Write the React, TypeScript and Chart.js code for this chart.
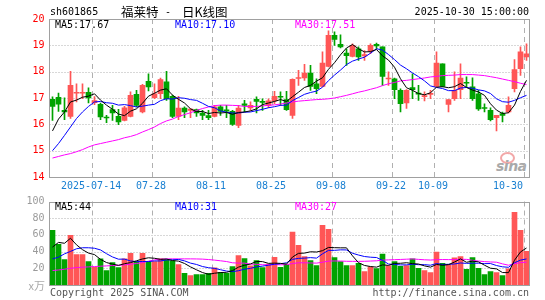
import React, { useEffect, useRef } from "react";
import { Chart, registerables } from "chart.js";
Chart.register(...registerables);

const dates = [
  "2025-07-03","2025-07-04","2025-07-07","2025-07-08","2025-07-09","2025-07-10","2025-07-11","2025-07-14","2025-07-15","2025-07-16",
  "2025-07-17","2025-07-18","2025-07-21","2025-07-22","2025-07-23","2025-07-24","2025-07-25","2025-07-28","2025-07-29","2025-07-30",
  "2025-07-31","2025-08-01","2025-08-04","2025-08-05","2025-08-06","2025-08-07","2025-08-08","2025-08-11","2025-08-12","2025-08-13",
  "2025-08-14","2025-08-15","2025-08-18","2025-08-19","2025-08-20","2025-08-21","2025-08-22","2025-08-25","2025-08-26","2025-08-27",
  "2025-08-28","2025-08-29","2025-09-01","2025-09-02","2025-09-03","2025-09-04","2025-09-05","2025-09-08","2025-09-09","2025-09-10",
  "2025-09-11","2025-09-12","2025-09-15","2025-09-16","2025-09-17","2025-09-18","2025-09-19","2025-09-22","2025-09-23","2025-09-24",
  "2025-09-25","2025-09-26","2025-09-29","2025-09-30","2025-10-09","2025-10-10","2025-10-13","2025-10-14","2025-10-15","2025-10-16",
  "2025-10-17","2025-10-20","2025-10-21","2025-10-22","2025-10-23","2025-10-24","2025-10-27","2025-10-28","2025-10-29","2025-10-30",
];
const axisDates = ["2025-07-14","2025-07-28","2025-08-11","2025-08-25","2025-09-08","2025-09-22","2025-10-09","2025-10-30"];
const axisLabels = ["2025-07-14","07-28","08-11","08-25","09-08","09-22","10-09","10-30"];
const priceGrid = [15, 16, 17, 18, 19];
const volumeGrid = [20, 40, 60, 80];

const opens = [
  16.95,17.03,16.53,16.30,17.18,17.18,17.22,16.82,16.76,16.26,
  16.56,16.30,16.15,16.30,17.14,16.47,17.63,17.01,17.16,17.61,
  17.06,16.30,16.62,16.53,16.56,16.43,16.33,16.30,16.66,16.55,
  16.49,15.96,16.78,16.62,16.95,16.87,16.72,16.89,17.06,16.94,
  16.34,17.74,17.76,17.95,17.54,17.44,18.20,19.38,19.04,18.71,
  18.58,18.87,18.60,18.78,19.04,18.94,17.72,17.73,17.29,16.81,
  17.40,17.18,17.05,17.14,17.44,18.30,16.76,16.97,17.32,17.59,
  17.42,17.16,16.62,16.53,16.25,16.41,16.47,17.35,18.11,18.56,
];
const closes = [
  16.68,16.77,16.47,17.48,17.20,17.21,17.00,16.90,16.28,16.24,
  16.43,16.09,16.63,17.10,16.72,17.48,17.42,17.16,17.70,16.97,
  16.30,16.62,16.47,16.58,16.43,16.34,16.25,16.66,16.49,16.50,
  16.00,16.62,16.72,16.72,16.87,16.83,16.89,17.06,17.03,16.56,
  17.71,17.76,17.95,17.44,17.35,18.33,19.38,19.22,18.94,18.61,
  19.00,18.56,18.65,19.00,18.98,17.82,17.74,17.32,16.78,17.29,
  17.32,17.15,17.07,17.17,18.33,17.44,16.94,17.29,17.76,17.56,
  16.97,16.59,16.60,16.18,16.34,16.34,16.72,18.08,18.75,18.68,
];
const highs = [
  17.04,17.19,17.01,18.01,17.54,17.54,17.39,17.05,16.81,16.34,
  16.72,16.57,16.68,17.23,17.29,17.52,17.92,17.54,17.76,18.01,
  17.10,17.06,16.66,16.60,16.58,16.53,16.53,16.72,16.72,16.72,
  16.53,16.72,16.91,16.85,17.04,16.97,16.97,17.25,17.23,17.25,
  17.73,18.05,18.28,18.24,17.73,18.75,19.55,19.51,19.40,18.87,
  19.06,18.94,18.80,19.06,19.09,18.94,17.99,17.76,17.35,17.32,
  17.92,17.48,17.23,17.29,18.75,18.30,16.94,17.99,18.30,17.80,
  17.77,17.29,16.78,16.63,16.34,16.47,17.04,18.46,18.94,19.06,
];
const lows = [
  16.15,16.49,16.18,16.22,16.85,16.97,16.81,16.75,16.18,16.06,
  16.15,15.99,16.13,16.28,16.66,16.43,17.27,16.97,16.97,16.91,
  16.25,16.18,16.25,16.25,16.30,16.18,16.18,16.28,16.34,16.25,
  15.96,15.87,16.47,16.53,16.43,16.53,16.63,16.78,16.72,16.53,
  16.22,17.48,17.67,17.29,17.16,17.42,18.18,19.00,18.90,18.24,
  18.56,18.43,18.43,18.68,18.87,17.48,17.48,16.97,16.47,16.60,
  16.97,16.91,16.89,16.97,17.42,17.42,16.47,16.91,16.97,17.42,
  16.91,16.53,16.47,16.13,15.75,16.09,16.43,17.23,17.86,18.43,
];
const ma5 = [
  15.75,16.20,16.47,16.85,16.92,17.03,17.07,17.16,16.92,16.73,
  16.57,16.39,16.33,16.50,16.59,16.80,17.07,17.18,17.30,17.35,
  17.11,16.95,16.81,16.59,16.48,16.49,16.41,16.45,16.43,16.45,
  16.38,16.45,16.47,16.51,16.59,16.75,16.81,16.87,16.94,16.87,
  17.05,17.22,17.40,17.48,17.64,17.77,18.09,18.34,18.64,18.90,
  19.03,18.87,18.75,18.76,18.84,18.60,18.44,18.17,17.73,17.39,
  17.29,17.17,17.12,17.20,17.41,17.43,17.39,17.43,17.55,17.40,
  17.30,17.23,17.10,16.78,16.54,16.41,16.44,16.73,17.25,17.67,
];
const ma10 = [
  15.00,15.27,15.58,15.90,16.22,16.47,16.68,16.85,16.87,16.82,
  16.80,16.73,16.75,16.71,16.66,16.69,16.73,16.76,16.90,16.97,
  16.96,17.01,16.99,16.94,16.91,16.80,16.68,16.63,16.51,16.46,
  16.43,16.43,16.46,16.47,16.52,16.57,16.63,16.67,16.72,16.73,
  16.90,17.02,17.14,17.21,17.26,17.41,17.66,17.87,18.06,18.27,
  18.40,18.48,18.55,18.70,18.87,18.82,18.65,18.46,18.25,18.11,
  17.95,17.81,17.65,17.46,17.40,17.36,17.28,17.28,17.38,17.40,
  17.37,17.31,17.27,17.17,16.97,16.86,16.84,16.91,17.01,17.10,
];
const ma30 = [
  14.72,14.78,14.84,14.89,14.96,15.04,15.14,15.22,15.27,15.32,
  15.37,15.42,15.49,15.54,15.61,15.71,15.80,15.90,16.03,16.13,
  16.20,16.30,16.37,16.44,16.53,16.60,16.66,16.71,16.73,16.73,
  16.72,16.71,16.68,16.68,16.68,16.70,16.72,16.74,16.77,16.81,
  16.85,16.88,16.90,16.92,16.94,16.95,16.97,17.00,17.05,17.10,
  17.16,17.22,17.27,17.33,17.39,17.47,17.54,17.59,17.65,17.67,
  17.70,17.73,17.76,17.80,17.82,17.85,17.86,17.87,17.89,17.89,
  17.89,17.87,17.85,17.81,17.77,17.72,17.67,17.62,17.56,17.51,
];
const volumes = [
  65.5,48.6,30.5,59.4,36.5,36.5,28.1,21.3,31.3,17.3,
  26.9,20.9,31.3,37.8,28.1,37.8,28.1,28.1,31.3,30.0,
  29.0,24.5,14.0,11.2,12.4,12.4,14.0,20.5,15.3,14.0,
  22.0,35.3,31.5,23.0,29.2,21.0,25.0,33.0,21.3,24.5,
  63.5,47.4,34.1,29.3,23.3,71.5,66.7,32.9,28.1,23.3,
  23.3,26.1,16.1,21.7,19.7,36.9,22.9,28.1,22.5,23.3,
  31.3,20.1,17.3,14.9,39.4,26.1,24.5,32.5,34.1,18.9,
  32.9,20.1,12.4,16.1,14.9,11.2,19.3,87.1,65.5,40.2,
];
const volMa5 = [
  45.4,51.0,50.0,56.0,48.1,42.3,38.2,36.4,30.7,26.9,
  25.0,23.5,25.5,26.8,29.0,31.2,32.6,32.0,30.7,31.1,
  29.3,28.6,25.8,21.7,18.2,14.9,12.8,14.1,14.9,15.2,
  17.2,21.4,23.6,25.2,28.2,28.0,25.9,26.2,25.9,25.0,
  33.5,37.9,38.2,39.8,39.5,41.1,45.0,44.7,44.5,44.5,
  34.9,26.7,23.4,22.1,21.4,24.1,23.5,25.9,26.0,26.7,
  25.6,25.1,22.9,21.4,24.6,23.6,24.4,27.5,31.3,27.2,
  28.6,27.7,23.7,20.1,19.3,14.9,14.8,29.7,39.6,44.3,
];
const volMa10 = [
  31.3,33.3,37.3,40.2,43.4,44.6,44.6,44.0,42.0,37.5,
  33.6,30.9,31.0,28.8,28.0,28.1,28.1,28.8,28.8,30.0,
  30.2,30.6,28.9,26.2,24.6,22.1,20.7,19.9,18.3,16.7,
  16.0,17.1,18.9,20.0,21.7,22.6,23.7,24.9,25.5,26.6,
  30.7,31.9,32.2,32.8,32.2,37.3,41.5,41.5,42.1,42.0,
  38.0,35.9,34.1,33.3,32.9,29.5,25.1,24.6,24.1,24.1,
  24.9,24.3,24.4,23.7,25.7,24.6,24.8,25.2,26.4,25.9,
  26.1,26.1,25.6,25.7,23.3,21.8,21.2,26.7,29.8,31.2,
];
const volMa30 = [
  17.3,18.0,18.9,20.0,20.9,21.3,21.7,22.1,22.5,22.9,
  23.3,23.7,24.1,24.9,25.7,26.9,28.5,30.1,30.9,31.3,
  31.3,31.3,31.3,31.3,31.2,31.0,30.5,29.8,29.0,28.1,
  26.6,26.2,26.2,25.0,24.8,24.3,24.2,24.5,24.2,24.4,
  25.7,26.6,26.6,26.4,26.2,27.3,28.6,28.8,28.7,28.4,
  28.3,28.3,28.4,28.7,29.0,29.8,30.1,30.3,30.6,30.9,
  31.2,30.7,30.2,29.9,30.3,30.5,30.4,30.4,30.8,30.7,
  29.6,28.7,28.0,27.6,27.3,25.3,23.7,25.5,26.8,27.3,
];

const RED = "#ff5656";
const GREEN = "#00a300";
const MONO = '"DejaVu Sans Mono", "Liberation Mono", monospace';
const CJK = '"Noto Sans CJK SC", sans-serif';
const W = 545;

function framePlugin(hLines: number[], withLabels: boolean) {
  return {
    id: "sinaFrame",
    beforeDatasetsDraw(chart: any) {
      const { ctx, chartArea: a, scales } = chart;
      const xs = scales.x;
      const ys = scales.y;
      ctx.save();
      ctx.lineWidth = 1;
      ctx.strokeStyle = "#b0b0b0";
      ctx.setLineDash([1, 2]);
      hLines.forEach((v) => {
        const py = Math.round(ys.getPixelForValue(v)) + 0.5;
        ctx.beginPath();
        ctx.moveTo(a.left, py);
        ctx.lineTo(a.right, py);
        ctx.stroke();
      });
      ctx.setLineDash([5, 4]);
      axisDates.forEach((d) => {
        const idx = dates.indexOf(d);
        const px = Math.floor(xs.getPixelForValue(idx) - 2) + 0.5;
        ctx.beginPath();
        ctx.moveTo(px, a.top);
        ctx.lineTo(px, a.bottom);
        ctx.stroke();
      });
      ctx.restore();
    },
    afterDatasetsDraw(chart: any) {
      const { ctx, chartArea: a, scales } = chart;
      ctx.save();
      ctx.lineWidth = 1;
      ctx.strokeStyle = "#a0a0a0";
      const l = Math.floor(a.left) + 0.5;
      const t = Math.round(a.top) + 0.5;
      const r = Math.floor(a.right) + 0.5;
      const b = Math.round(a.bottom) + 0.5;
      ctx.strokeRect(l, t, r - l, b - t);
      if (withLabels) {
        const xs = scales.x;
        ctx.font = `10px ${MONO}`;
        ctx.fillStyle = "#1a80d2";
        ctx.textBaseline = "middle";
        ctx.textAlign = "left";
        axisDates.forEach((d, k) => {
          const px = xs.getPixelForValue(dates.indexOf(d)) - 3;
          const text = axisLabels[k];
          const w = ctx.measureText(text).width;
          let left = px - w / 2;
          if (left + w > a.right - 6) left = a.right - 6 - w;
          ctx.fillText(text, Math.round(left), Math.round(a.bottom) + 9);
        });
      }
      ctx.restore();
    },
  };
}

const upColors = opens.map((o, i) => (closes[i] >= o ? RED : GREEN));

function lineDs(data: number[], color: string) {
  return {
    type: "line",
    data,
    borderColor: color,
    borderWidth: 1,
    pointRadius: 0,
    fill: false,
    tension: 0,
    order: 0,
  };
}

function yAxisFit(s: any) {
  s.width = 49.5;
  s.paddingTop = 0;
  s.paddingBottom = 0;
}

function Txt(props: any) {
  const { x, y, color = "#000", size = 10, align = "left", font = MONO, children, style } = props;
  const pos: any = align === "right" ? { right: W - x } : { left: x };
  return (
    <div
      style={{
        position: "absolute",
        ...pos,
        top: y - 8,
        height: 16,
        lineHeight: "16px",
        fontSize: size,
        fontFamily: font,
        color,
        whiteSpace: "pre",
        ...style,
      }}
    >
      {children}
    </div>
  );
}

export default function App() {
  const priceRef = useRef<HTMLCanvasElement>(null);
  const volRef = useRef<HTMLCanvasElement>(null);

  useEffect(() => {
    const price = new Chart(priceRef.current as any, {
      type: "bar",
      data: {
        labels: dates,
        datasets: [
          lineDs(ma5, "#000000"),
          lineDs(ma10, "#0000ff"),
          lineDs(ma30, "#ff00ff"),
          {
            type: "bar",
            data: opens.map((o, i) => [o, closes[i]]),
            backgroundColor: upColors,
            barThickness: 5,
            minBarLength: 1,
            grouped: false,
            order: 2,
          },
          {
            type: "bar",
            data: lows.map((l, i) => [l, highs[i]]),
            backgroundColor: upColors,
            barThickness: 1,
            grouped: false,
            order: 3,
          },
        ] as any,
      },
      options: {
        responsive: false,
        animation: false,
        events: [],
        layout: { padding: { left: 0, right: 15.5, top: 19, bottom: 0 } },
        plugins: { legend: { display: false }, tooltip: { enabled: false } },
        scales: {
          x: {
            type: "category",
            offset: true,
            grid: { display: false, drawTicks: false },
            border: { display: false },
            ticks: { display: false },
            afterFit: (s: any) => {
              s.height = 19;
              s.paddingLeft = 0;
              s.paddingRight = 0;
            },
          },
          y: {
            min: 14,
            max: 20,
            grid: { display: false, drawTicks: false },
            border: { display: false },
            ticks: {
              stepSize: 1,
              padding: 5,
              color: "#ff0000",
              font: { family: MONO, size: 10 },
            },
            afterFit: yAxisFit,
          },
        },
      } as any,
      plugins: [framePlugin(priceGrid, true)],
    });

    const vol = new Chart(volRef.current as any, {
      type: "bar",
      data: {
        labels: dates,
        datasets: [
          lineDs(volMa5, "#000000"),
          lineDs(volMa10, "#0000ff"),
          lineDs(volMa30, "#ff00ff"),
          {
            type: "bar",
            data: volumes,
            backgroundColor: upColors,
            barThickness: 5,
            order: 2,
          },
        ] as any,
      },
      options: {
        responsive: false,
        animation: false,
        events: [],
        layout: { padding: { left: 0, right: 15.5, top: 5.5, bottom: 15 } },
        plugins: { legend: { display: false }, tooltip: { enabled: false } },
        scales: {
          x: { type: "category", offset: true, display: false },
          y: {
            min: 0,
            max: 100,
            grid: { display: false, drawTicks: false },
            border: { display: false },
            ticks: {
              stepSize: 20,
              padding: 5,
              color: "#9a9a9a",
              font: { family: MONO, size: 10 },
              callback: (v: any) => (v === 0 ? "" : String(v)),
            },
            afterFit: yAxisFit,
          },
        },
      } as any,
      plugins: [framePlugin(volumeGrid, false)],
    });

    return () => {
      price.destroy();
      vol.destroy();
    };
  }, []);

  const last = closes.length - 1;

  return (
    <div
      style={{
        position: "fixed",
        left: 0,
        top: 0,
        width: W,
        height: 300,
        background: "#fff",
        overflow: "hidden",
      }}
    >
      <div
        style={{
          position: "absolute",
          left: 500,
          top: 152,
          width: 11,
          height: 8,
          borderRadius: "50%",
          border: "2px solid #f2a8a8",
        }}
      />
      <Txt x={496} y={166} color="#a9a9a9" size={14} font='"DejaVu Sans", sans-serif' style={{ fontStyle: "italic", fontWeight: "bold", letterSpacing: -0.5 }}>
        sina
      </Txt>

      <canvas
        ref={priceRef}
        width={W}
        height={196}
        style={{ position: "absolute", left: 0, top: 0, display: "block" }}
      />
      <canvas
        ref={volRef}
        width={W}
        height={104}
        style={{ position: "absolute", left: 0, top: 196, display: "block" }}
      />

      <Txt x={50} y={11.5}>sh601865</Txt>
      <Txt x={121} y={11.5} size={12.5} font={CJK}>福莱特</Txt>
      <Txt x={165} y={11.5}>-</Txt>
      <Txt x={182} y={11.5} size={12.5} font={CJK}>日K线图</Txt>
      <Txt x={529} y={11.5} align="right">2025-10-30 15:00:00</Txt>

      <Txt x={55} y={24.5}>{`MA5:${ma5[last].toFixed(2)}`}</Txt>
      <Txt x={175} y={24.5} color="#0000ff">{`MA10:${ma10[last].toFixed(2)}`}</Txt>
      <Txt x={295} y={24.5} color="#ff00ff">{`MA30:${ma30[last].toFixed(2)}`}</Txt>

      <Txt x={55} y={206.5}>{`MA5:${volMa5[last].toFixed(0)}`}</Txt>
      <Txt x={175} y={206.5} color="#0000ff">{`MA10:${volMa10[last].toFixed(0)}`}</Txt>
      <Txt x={295} y={206.5} color="#ff00ff">{`MA30:${volMa30[last].toFixed(0)}`}</Txt>

      <Txt x={45} y={285} align="right" color="#aaaaaa" size={11} font={CJK}>x万</Txt>
      <Txt x={50} y={292.5} color="#555">Copyright 2025 SINA.COM</Txt>
      <Txt x={529} y={292.5} align="right" color="#555">http://finance.sina.com.cn</Txt>
    </div>
  );
}
